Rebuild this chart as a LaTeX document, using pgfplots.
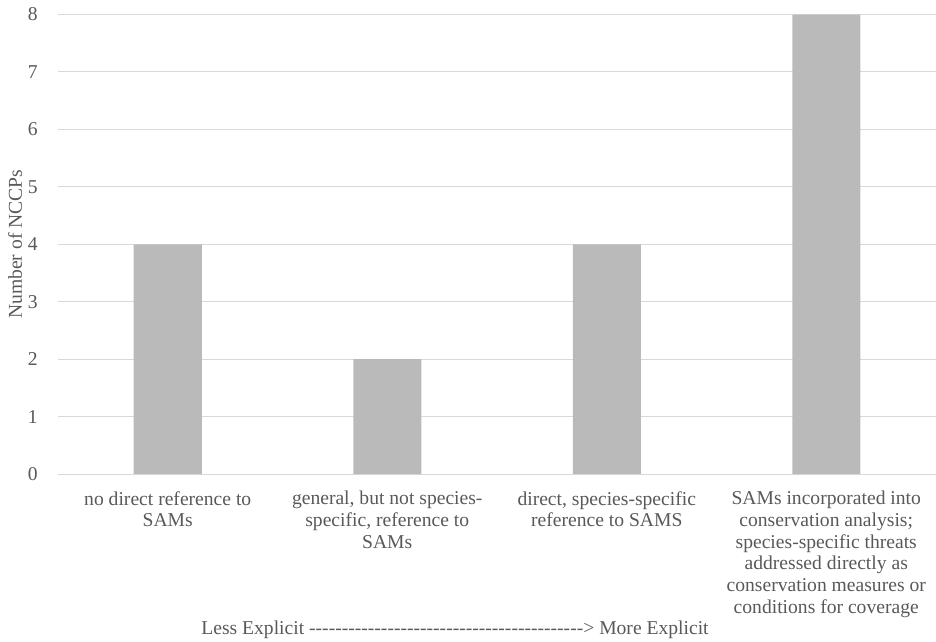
\documentclass[border=0pt]{standalone}
\usepackage{fontspec}
\setmainfont{Liberation Serif}
\usepackage{pgfplots}
\pgfplotsset{compat=1.18}
\definecolor{txt}{HTML}{595959}
\definecolor{gridc}{HTML}{D9D9D9}
\definecolor{barc}{HTML}{BABABA}
\newcommand\hy{-\kern0pt}
\newcommand\hyten{\hy\hy\hy\hy\hy\hy\hy\hy\hy\hy}
\newcommand\lab{\fontsize{19.6bp}{21.7bp}\selectfont}
\begin{document}
\begin{tikzpicture}
\useasboundingbox (-58bp,-168bp) rectangle (878bp,474bp);
\begin{axis}[
  at={(0,0)}, anchor=south west,
  scale only axis, width=878bp, height=459.5bp,
  xmin=-0.5, xmax=3.5, ymin=0, ymax=8,
  ytick={0,1,2,3,4,5,6,7,8},
  xtick={0,1,2,3},
  xticklabels={
    {no direct reference to\\SAMs},
    {general, but not species-\\specific, reference to\\SAMs},
    {direct, species-specific\\reference to SAMS},
    {SAMs incorporated into\\conservation analysis;\\species-specific threats\\addressed directly as\\conservation measures or\\conditions for coverage}},
  axis line style={draw=none},
  major tick length=0pt,
  tick style={draw=none},
  ymajorgrids, major grid style={draw=gridc, line width=1bp},
  /pgf/number format/assume math mode=true,
  xticklabel style={align=center, font=\lab, text=txt, anchor=north, inner sep=0pt, yshift=-17bp},
  yticklabel style={anchor=east, font=\lab, text=txt, inner sep=0pt, xshift=-20bp},
  clip=false,
]
\addplot[ybar, fill=barc, draw=none, bar width=68bp] coordinates {(0,4) (1,2) (2,4) (3,8)};
\node[font=\lab, text=txt, anchor=base] at ([yshift=-160.5bp]rel axis cs:0.4522,0) {Less Explicit \hyten\hyten\hyten\hyten\hy\hy> More Explicit};
\node[font=\lab, text=txt, rotate=90, anchor=center] at ([xshift=-43bp]rel axis cs:0,0.5) {Number of NCCPs};
\end{axis}
\end{tikzpicture}
\end{document}
